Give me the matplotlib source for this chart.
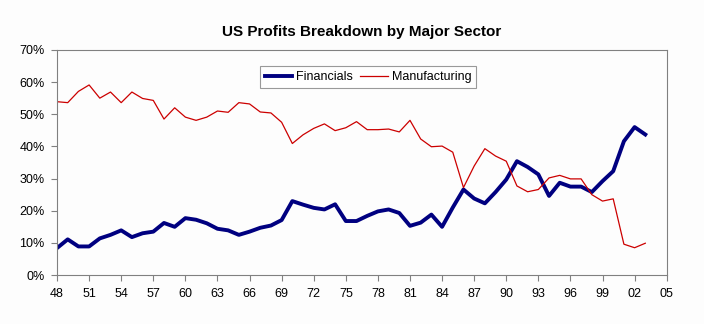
import matplotlib.pyplot as plt
from matplotlib.ticker import FuncFormatter

years = list(range(1948, 2004))
financials = [8.4, 11.1, 8.9, 8.9, 11.4, 12.5, 13.9, 11.8, 13.0, 13.5,
              16.2, 15.0, 17.7, 17.2, 16.1, 14.4, 13.9, 12.5, 13.5, 14.7,
              15.4, 17.1, 23.0, 21.9, 20.9, 20.4, 22.0, 16.8, 16.8, 18.4,
              19.8, 20.4, 19.3, 15.3, 16.3, 18.8, 15.0, 21.0, 26.6, 23.8,
              22.3, 25.8, 29.7, 35.4, 33.6, 31.3, 24.6, 28.7, 27.5, 27.5,
              25.8, 29.2, 32.3, 41.6, 46.0, 43.7]
manufacturing = [53.9, 53.6, 57.1, 59.1, 55.0, 56.9, 53.6, 56.9, 54.9, 54.3,
                 48.5, 52.0, 49.1, 48.1, 49.1, 51.0, 50.6, 53.6, 53.2, 50.7,
                 50.4, 47.5, 40.9, 43.6, 45.6, 47.0, 44.9, 45.8, 47.7, 45.2,
                 45.2, 45.4, 44.5, 48.1, 42.3, 39.9, 40.1, 38.2, 27.2, 33.9,
                 39.3, 37.0, 35.4, 27.7, 25.9, 26.6, 30.2, 31.0, 29.9, 29.9,
                 25.0, 23.0, 23.7, 9.6, 8.5, 9.9]
xticks = list(range(1948, 2006, 3))
yticks = list(range(0, 71, 10))

plt.rcParams['font.family'] = ['Liberation Sans', 'DejaVu Sans']

fig = plt.figure(figsize=(7.04, 3.24), dpi=100, facecolor='#fdfdfd')
ax = fig.add_axes([0.081, 0.151, 0.866, 0.695], facecolor='#fdfdfd')

ax.plot(years, financials, color='#000080', lw=2.8, label='Financials', solid_joinstyle='round')
ax.plot(years, manufacturing, color='#cc0000', lw=0.9, label='Manufacturing')

ax.set_xlim(1948, 2005)
ax.set_ylim(0, 70)
ax.set_xticks(xticks)
ax.xaxis.set_major_formatter(FuncFormatter(lambda v, p: f'{int(v) % 100:02d}'))
ax.set_yticks(yticks)
ax.yaxis.set_major_formatter(FuncFormatter(lambda v, p: f'{int(v)}%'))
ax.tick_params(labelsize=9, length=4, color='#808080', direction='out', pad=5)
for s in ax.spines.values():
    s.set_color('#808080')

ax.set_title('US Profits Breakdown by Major Sector', fontsize=11, fontweight='bold', pad=10)

leg = ax.legend(loc='upper center', bbox_to_anchor=(0.51, 0.955), ncol=2, fontsize=9,
                frameon=True, fancybox=False, edgecolor='#808080', handlelength=2.2,
                handletextpad=0.3, columnspacing=0.6, borderpad=0.4)
leg.get_frame().set_linewidth(0.8)

fig.savefig('out.png', dpi=100, facecolor=fig.get_facecolor())
